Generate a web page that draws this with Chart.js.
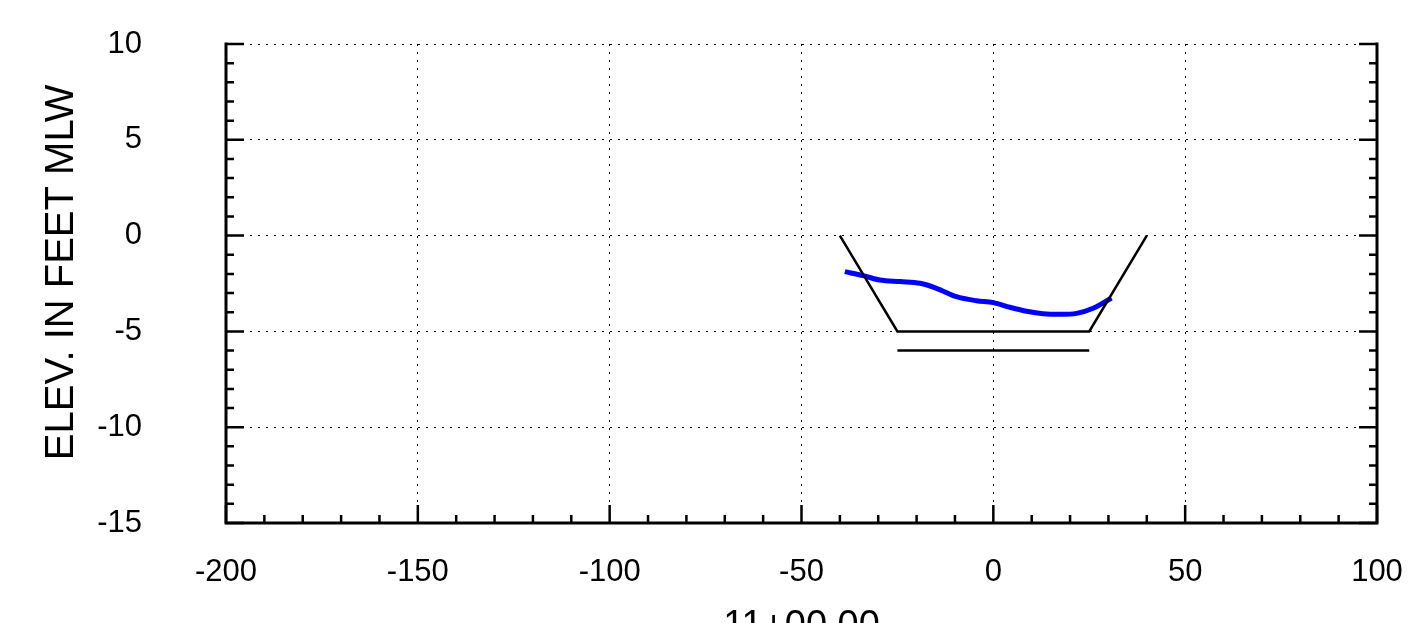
<!DOCTYPE html>
<html>
<head>
<meta charset="utf-8">
<script src="https://cdn.jsdelivr.net/npm/chart.js@4/dist/chart.umd.min.js"></script>
<style>
  html, body { margin: 0; padding: 0; background: #fff; overflow: hidden; }
  #wrap { width: 1416px; height: 660px; }
</style>
</head>
<body>
<div id="wrap"><canvas id="section"></canvas></div>
<script>
// Channel template (design section)
const templateX = [-40, -25, 25, 40];
const templateY = [0, -5, -5, 0];

// Allowable overdepth line
const overdepthX = [-25, 25];
const overdepthY = [-6, -6];

// Surveyed bottom profile
const surveyX = [-38.7, -33.9, -29.6, -24.3, -19.1, -14.8, -9.6, -4.4, 0, 4.3, 8.7, 13.0, 17.4, 21.7, 26.0, 30.8];
const surveyY = [-1.88, -2.09, -2.32, -2.40, -2.49, -2.75, -3.19, -3.40, -3.50, -3.74, -3.95, -4.08, -4.11, -4.06, -3.79, -3.26];

// Axis ranges / ticks
const xRange = [-200, 100];
const yRange = [-15, 10];
const xMajor = 50, yMajor = 5;

const toPoints = (xs, ys) => xs.map((x, i) => ({ x: x, y: ys[i] }));

const FONT = '"Liberation Sans", Arial, Helvetica, sans-serif';

// Draw the solid frame (left, bottom, right) with inward tick marks
const framePlugin = {
    id: 'frame',
    afterDraw(chart) {
        const { ctx, chartArea: a, scales } = chart;
        const xs = scales.x, ys = scales.y;
        ctx.save();
        ctx.strokeStyle = '#000';
        ctx.lineWidth = 3;
        ctx.lineJoin = 'miter';
        ctx.beginPath();
        ctx.moveTo(a.left, a.top - 1.5);
        ctx.lineTo(a.left, a.bottom);
        ctx.lineTo(a.right, a.bottom);
        ctx.lineTo(a.right, a.top - 1.5);
        ctx.stroke();

        ctx.lineWidth = 2.5;
        ctx.beginPath();
        xs.ticks.forEach(t => {
            const px = xs.getPixelForValue(t.value);
            const len = t.value % xMajor === 0 ? 18 : 8;
            ctx.moveTo(px, a.bottom);
            ctx.lineTo(px, a.bottom - len);
        });
        ys.ticks.forEach(t => {
            const py = ys.getPixelForValue(t.value);
            const len = t.value % yMajor === 0 ? 18 : 8;
            ctx.moveTo(a.left, py);
            ctx.lineTo(a.left + len, py);
            ctx.moveTo(a.right, py);
            ctx.lineTo(a.right - len, py);
        });
        ctx.stroke();
        ctx.restore();
    }
};

new Chart(document.getElementById('section'), {
    type: 'line',
    data: {
        datasets: [
            {
                label: 'Template',
                data: toPoints(templateX, templateY),
                borderColor: '#000',
                borderWidth: 2.5,
                pointRadius: 0,
                tension: 0
            },
            {
                label: 'Overdepth',
                data: toPoints(overdepthX, overdepthY),
                borderColor: '#000',
                borderWidth: 2.5,
                pointRadius: 0,
                tension: 0
            },
            {
                label: 'Survey',
                data: toPoints(surveyX, surveyY),
                borderColor: '#0000ff',
                borderWidth: 5,
                pointRadius: 0,
                cubicInterpolationMode: 'monotone'
            }
        ]
    },
    options: {
        responsive: true,
        maintainAspectRatio: false,
        animation: false,
        layout: { padding: { top: 44, right: 39, left: 0, bottom: 0 } },
        plugins: {
            legend: { display: false },
            tooltip: { enabled: false }
        },
        scales: {
            x: {
                type: 'linear',
                min: xRange[0],
                max: xRange[1],
                afterFit: s => { s.height = 137; s.paddingLeft = 0; s.paddingRight = 0; },
                border: { display: false, dash: [2, 6] },
                grid: {
                    drawTicks: false,
                    lineWidth: 1,
                    color: c => (c.tick && c.tick.value % xMajor === 0) ? '#000' : 'rgba(0,0,0,0)'
                },
                ticks: {
                    stepSize: 10,
                    autoSkip: false,
                    minRotation: 0,
                    maxRotation: 0,
                    padding: 31,
                    color: '#000',
                    font: { family: FONT, size: 31 },
                    callback: v => (v % xMajor === 0 ? String(v) : '')
                },
                title: {
                    display: true,
                    text: '11+00.00',
                    color: '#000',
                    font: { family: FONT, size: 38 },
                    padding: { top: 0, bottom: 11 }
                }
            },
            y: {
                type: 'linear',
                min: yRange[0],
                max: yRange[1],
                afterFit: s => { s.width = 226; s.paddingTop = 0; s.paddingBottom = 0; },
                border: { display: false, dash: [2, 6] },
                grid: {
                    drawTicks: false,
                    lineWidth: 1,
                    color: c => (c.tick && c.tick.value % yMajor === 0) ? '#000' : 'rgba(0,0,0,0)'
                },
                ticks: {
                    stepSize: 1,
                    autoSkip: false,
                    padding: 84,
                    color: '#000',
                    font: { family: FONT, size: 31 },
                    callback: v => (v % yMajor === 0 ? String(v) : '')
                },
                title: {
                    display: true,
                    text: '  ELEV. IN FEET MLW',
                    color: '#000',
                    font: { family: FONT, size: 40 },
                    padding: { top: 38, bottom: 0 }
                }
            }
        }
    },
    plugins: [framePlugin]
});
</script>
</body>
</html>
